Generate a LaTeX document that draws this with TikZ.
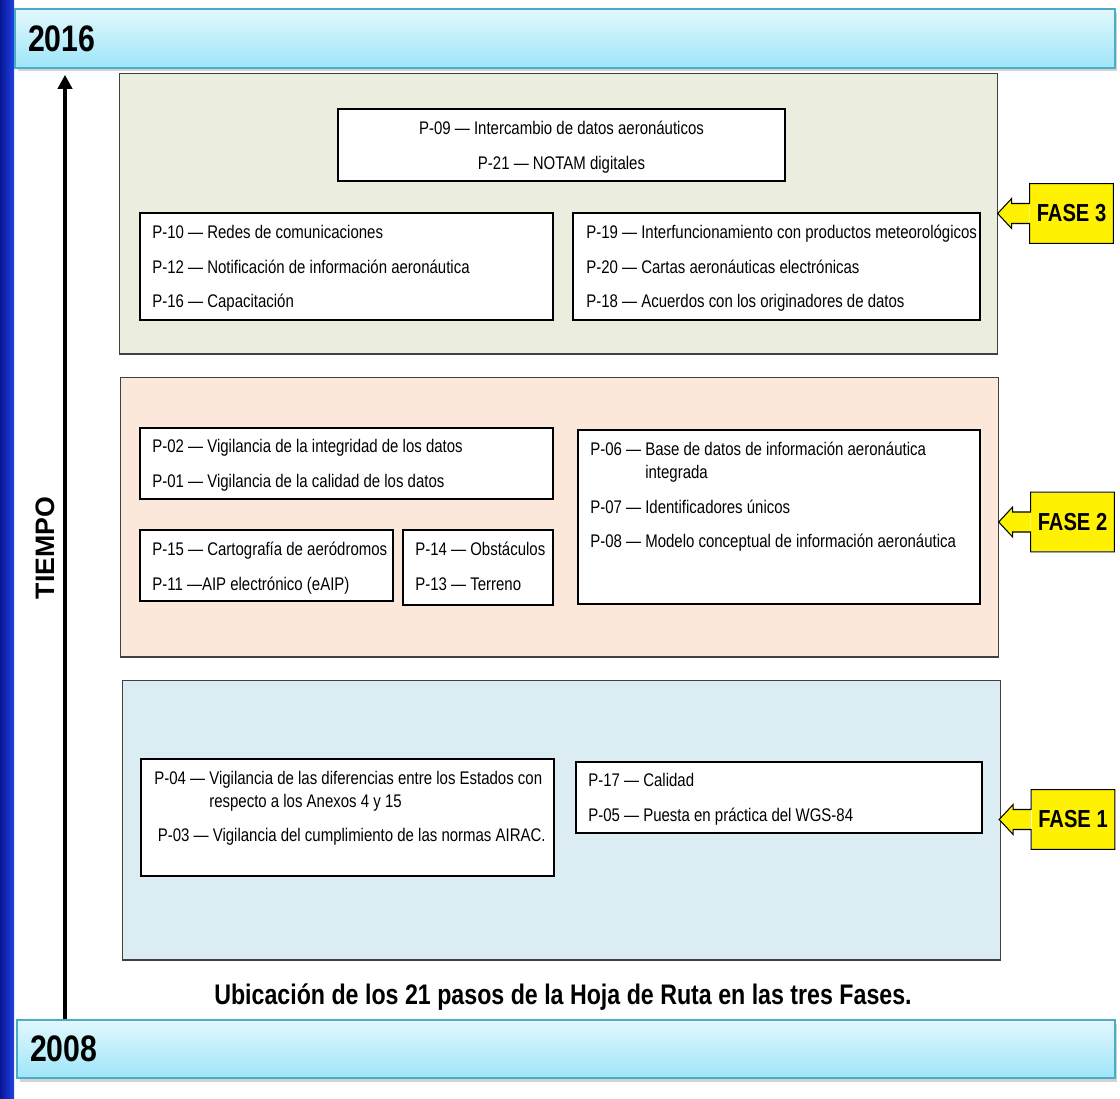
\documentclass[tikz,border=0pt]{standalone}
\usepackage{fontspec}
\setmainfont{Liberation Sans}[FakeStretch=0.82]
\newfontfamily\widefont{Liberation Sans}
\usetikzlibrary{positioning,calc,shadows,arrows.meta}

\definecolor{stripdark}{RGB}{8,22,150}
\definecolor{striplight}{RGB}{30,66,225}
\definecolor{bartop}{RGB}{226,248,253}
\definecolor{barbottom}{RGB}{158,229,249}
\definecolor{barline}{RGB}{75,172,198}
\definecolor{fasethree}{RGB}{235,238,222}
\definecolor{fasetwo}{RGB}{252,232,218}
\definecolor{faseone}{RGB}{219,237,243}

\newcommand\boxfont{\fontsize{10.4}{19.6}\selectfont}

\tikzset{
  yearbar/.style={draw=barline, line width=0.9pt, top color=bartop, bottom color=barbottom,
    drop shadow={shadow xshift=0.05cm, shadow yshift=-0.07cm, opacity=0.35},
    align=left, inner xsep=0.26cm, font=\bfseries\fontsize{21}{24}\selectfont},
  phasebox/.style={draw=black!75, line width=0.6pt, minimum width=17.58cm, minimum height=5.6cm},
  stepbox/.style={draw, fill=white, line width=0.9pt},
  steptext/.style={anchor=north west, inner sep=0pt, align=left, font=\boxfont},
  fasebox/.style={fill=yellow, minimum width=1.66cm, minimum height=1.18cm,
    font=\bfseries\fontsize{14}{16}\selectfont},
  timeline/.style={line width=2.4pt, -{Triangle[length=0.28cm, width=0.28cm]}}
}

\begin{document}
\begin{tikzpicture}[x=0.02cm, y=-0.02cm]
    \useasboundingbox (0,0) rectangle (1120,1099);
    % Blue strip on the left
    \shade[left color=stripdark, right color=striplight] (0,0) rectangle (14,1099);

    % Year bars
    \node[yearbar, minimum width=22cm, minimum height=1.18cm, text width=21.48cm] (bar2016) at (565,38.5) {2016};
    \node[yearbar, minimum width=21.96cm, minimum height=1.16cm, text width=21.44cm] (bar2008) at (566,1049) {2008};

    % Time axis
    \coordinate (tx) at (65,0);
    \draw[timeline, shorten >=0.12cm] (tx |- bar2008.north) -- (tx |- bar2016.south);
    \node[rotate=90, font=\widefont\bfseries\fontsize{15.2}{17}\selectfont] (tiempo) at (45,548) {TIEMPO};

    % Phase backgrounds
    \node[phasebox, fill=fasethree, minimum height=5.62cm] (phase3) at (558.5,213.5) {};
    \node[phasebox, fill=fasetwo] (phase2) at (559.5,517) {};
    \node[phasebox, fill=faseone] (phase1) at (561.5,820) {};

    % Phase 3 steps
    \node[stepbox, minimum width=8.94cm, minimum height=1.44cm] (b09) at (561.5,145) {};
    \node[steptext, anchor=north, align=center] (t09) at (561.5,121) {P-09 — Intercambio de datos aeronáuticos\\P-21 — NOTAM digitales};
    \node[stepbox, minimum width=8.26cm, minimum height=2.14cm] (b10) at (346.5,266.5) {};
    \node[steptext] (t10) at (152,225) {P-10 — Redes de comunicaciones\\P-12 — Notificación de información  aeronáutica\\P-16 — Capacitación};
    \node[stepbox, minimum width=8.14cm, minimum height=2.14cm] (b19) at (776.5,266.5) {};
    \node[steptext] (t19) at (586,225) {P-19 — Interfuncionamiento con productos meteorológicos\\P-20 — Cartas aeronáuticas electrónicas\\P-18 — Acuerdos con los originadores de datos};

    % Phase 2 steps
    \node[stepbox, minimum width=8.26cm, minimum height=1.42cm] (b02) at (346.5,463.5) {};
    \node[steptext] (t02) at (152,439) {P-02 — Vigilancia de la integridad de los datos\\P-01 — Vigilancia de la calidad de los datos};
    \node[stepbox, minimum width=8.04cm, minimum height=3.48cm] (b06) at (779,517) {};
    \node[steptext] (t06) at (590,442) {P-06 — Base de datos de información aeronáutica\\[-6.6pt]\hphantom{P-06 — }integrada\\P-07 — Identificadores únicos\\P-08 — Modelo conceptual de información aeronáutica};
    \node[stepbox, minimum width=5.06cm, minimum height=1.42cm] (b15) at (266.5,565.5) {};
    \node[steptext] (t15) at (152,542) {P-15 — Cartografía de aeródromos\\P-11 —AIP electrónico (eAIP)};
    \node[stepbox, minimum width=3cm, minimum height=1.5cm] (b14) at (478,567.5) {};
    \node[steptext] (t14) at (415,542) {P-14 — Obstáculos\\P-13 — Terreno};

    % Phase 1 steps
    \node[stepbox, minimum width=8.26cm, minimum height=2.34cm] (b04) at (347.5,817.5) {};
    \node[steptext] (t04) at (154,771) {P-04 — Vigilancia de las diferencias entre los Estados con\\[-6.6pt]\hphantom{P-04 — }respecto a los Anexos 4 y 15\\\hspace{2pt}P-03 — Vigilancia del cumplimiento de las normas AIRAC.};
    \node[stepbox, minimum width=8.12cm, minimum height=1.42cm] (b17) at (779,797.5) {};
    \node[steptext] (t17) at (588,773) {P-17 — Calidad\\P-05 — Puesta en práctica del WGS-84};

    % Phase callouts
    \node[fasebox] (fase3) at (1071.5,213.5) {FASE 3};
    \node[fasebox] (fase2) at (1072.5,522) {FASE 2};
    \node[fasebox] (fase1) at (1073,819.5) {FASE 1};
    \foreach \f in {1,2,3} {
        \fill[yellow] ($(fase\f.west)+(0,-10)$) -- ++(-18,0) -- ++(0,-5) -- ++(-14,15)
            -- ++(14,15) -- ++(0,-5) -- ++(18,0) -- cycle;
        \draw[line width=0.6pt] (fase\f.north west) -- ($(fase\f.west)+(0,-10)$) -- ++(-18,0) -- ++(0,-5)
            -- ++(-14,15) -- ++(14,15) -- ++(0,-5) -- ++(18,0) -- (fase\f.south west)
            -- (fase\f.south east) -- (fase\f.north east) -- cycle;
    }

    % Caption
    \node[font=\bfseries\fontsize{16.1}{18}\selectfont] (caption) at (563,997) {Ubicación de los 21 pasos de la Hoja de Ruta en las tres Fases.};
\end{tikzpicture}
\end{document}
